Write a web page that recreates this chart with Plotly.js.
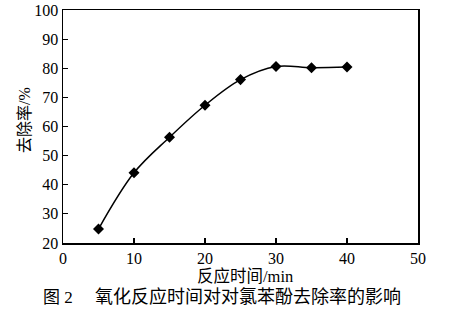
<!DOCTYPE html>
<html><head><meta charset="utf-8">
<script src="https://cdn.plot.ly/plotly-3.0.1.min.js"></script>
<style>html,body{margin:0;padding:0;background:#fff;}#c{width:459px;height:310px;}</style>
</head><body><div id="c"></div>
<script>
const timeMin = [5, 10, 15, 20, 25, 30, 35, 40];
const removalRate = [24.8, 44.1, 56.3, 67.3, 76.1, 80.6, 80.2, 80.4];
const xTicks = [0, 10, 20, 30, 40, 50];
const yTicks = [20, 30, 40, 50, 60, 70, 80, 90, 100];
const xTitle = "反应时间/min";
const yTitle = "去除率/%";
const captionNum = "图 2";
const caption = "氧化反应时间对对氯苯酚去除率的影响";

const fontFam = "Liberation Serif, Times New Roman, Noto Sans CJK SC, serif";
const trace = {
  x: timeMin, y: removalRate, type: "scatter", mode: "lines+markers",
  line: {color: "#000", width: 1.5, shape: "spline", smoothing: 1},
  marker: {symbol: "diamond", size: 8.5, color: "#000"},
  hoverinfo: "none"
};
const axisCommon = {
  showgrid: false, zeroline: false, showline: true, linecolor: "#000", linewidth: 1.5,
  mirror: true, ticks: "inside", ticklen: 5, tickwidth: 1.2, tickcolor: "#000",
  tickfont: {family: fontFam, size: 16, color: "#000"}
};
const layout = {
  width: 459, height: 310,
  margin: {l: 63, r: 41, t: 10, b: 67},
  paper_bgcolor: "#fff", plot_bgcolor: "#fff",
  showlegend: false,
  xaxis: Object.assign({}, axisCommon, {range: [0, 50], tickvals: xTicks, ticktext: xTicks.map(String)}),
  yaxis: Object.assign({}, axisCommon, {range: [20, 100], tickvals: yTicks, ticktext: yTicks.map(String)}),
  annotations: [
    {text: xTitle, xref: "paper", yref: "paper", x: 0.513, y: -0.142, xanchor: "center", yanchor: "middle",
     showarrow: false, font: {family: fontFam, size: 16.5, color: "#000"}},
    {text: yTitle, xref: "paper", yref: "paper", x: -0.107, y: 0.528, xanchor: "center", yanchor: "middle",
     textangle: -90, showarrow: false, font: {family: fontFam, size: 16, color: "#000"}},
    {text: captionNum, xref: "paper", yref: "paper", x: -0.014, y: -0.232, xanchor: "center", yanchor: "middle",
     showarrow: false, font: {family: fontFam, size: 17, color: "#000"}},
    {text: caption, xref: "paper", yref: "paper", x: 0.52, y: -0.232, xanchor: "center", yanchor: "middle",
     showarrow: false, font: {family: fontFam, size: 18, color: "#000"}}
  ]
};
Plotly.newPlot("c", [trace], layout, {staticPlot: true, displayModeBar: false});
</script></body></html>
